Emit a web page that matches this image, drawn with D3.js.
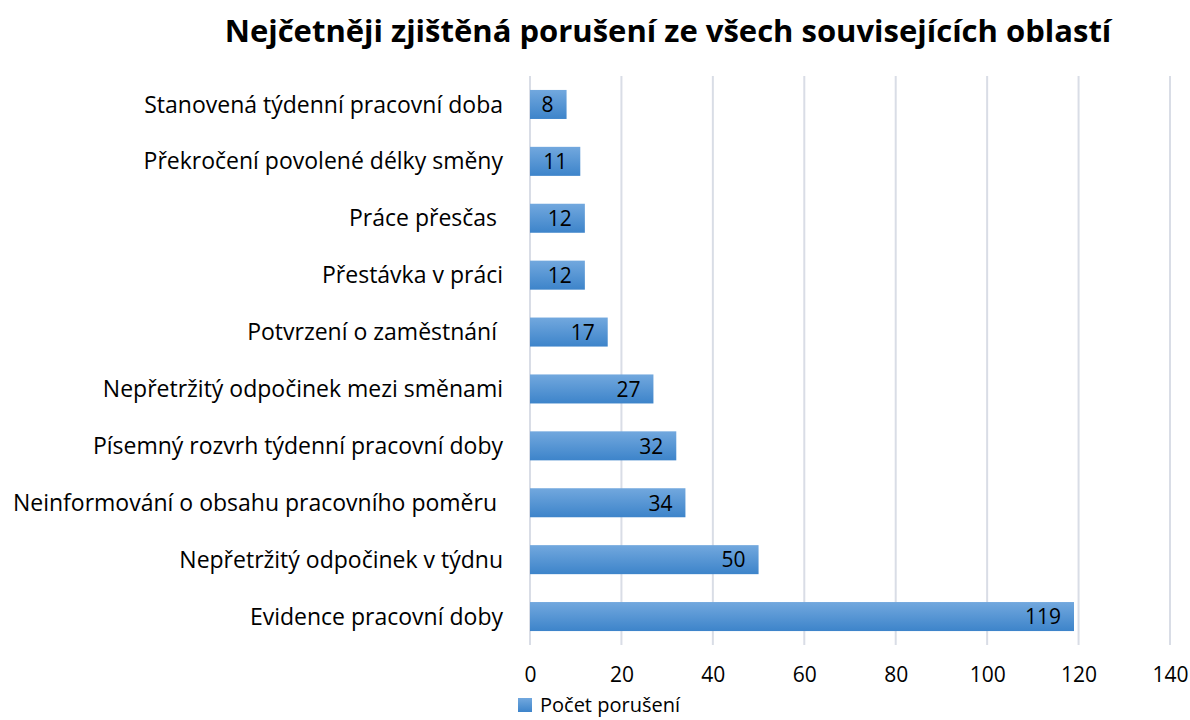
<!doctype html>
<html>
<head>
<meta charset="utf-8">
<script src="https://d3js.org/d3.v7.min.js"></script>
<style>
body { margin: 0; background: #fff; }
text { font-family: "Open Sans", Lato, sans-serif; fill: #000; }
</style>
</head>
<body>
<script>
var width = 1190, height = 720;

// data, top to bottom
var categories = [
	'Stanovená týdenní pracovní doba',
	'Překročení povolené délky směny',
	'Práce přesčas ',
	'Přestávka v práci',
	'Potvrzení o zaměstnání ',
	'Nepřetržitý odpočinek mezi směnami',
	'Písemný rozvrh týdenní pracovní doby',
	'Neinformování o obsahu pracovního poměru ',
	'Nepřetržitý odpočinek v týdnu',
	'Evidence pracovní doby'
];
var values = [8, 11, 12, 12, 17, 27, 32, 34, 50, 119];
var xTicks = [0, 20, 40, 60, 80, 100, 120, 140];
var seriesName = 'Počet porušení';
var title = 'Nejčetněji zjištěná porušení ze všech souvisejících oblastí';

var svg = d3.select('body').append('svg').attr('width', width).attr('height', height);

var defs = svg.append('defs');
var grad = defs.append('linearGradient').attr('id', 'barGrad')
	.attr('x1', 0).attr('y1', 0).attr('x2', 0).attr('y2', 1);
grad.append('stop').attr('offset', '0%').attr('stop-color', '#72a8de');
grad.append('stop').attr('offset', '100%').attr('stop-color', '#3d84ca');

var x = d3.scaleLinear().domain([0, 140]).range([530, 1170]);
var y = d3.scaleBand().domain(categories).range([76, 645]).paddingInner(0.49).paddingOuter(0.245);

// title
svg.append('text').attr('x', 668).attr('y', 42)
	.attr('text-anchor', 'middle')
	.style('font-size', '31px').style('font-weight', 'bold')
	.text(title);

// gridlines
svg.append('g').selectAll('line').data(xTicks).enter().append('line')
	.attr('x1', function(d){return x(d);}).attr('x2', function(d){return x(d);})
	.attr('y1', 76).attr('y2', 645)
	.style('stroke', '#d9dde6').style('stroke-width', 2);

// x tick labels
var xAxis = d3.axisBottom(x).tickValues(xTicks).tickSize(0).tickPadding(0);
var axG = svg.append('g').attr('transform', 'translate(0,667)').call(xAxis);
axG.select('.domain').remove();
axG.selectAll('text').style('font-size', '21px').style('font-family', '"Open Sans", sans-serif').attr('dy', '0.72em').attr('fill', '#000');

// category labels
svg.append('g').selectAll('text').data(categories).enter().append('text')
	.attr('x', 503)
	.attr('y', function(d){return y(d) + y.bandwidth() / 2;})
	.attr('dy', '0.35em')
	.attr('text-anchor', 'end')
	.style('font-size', '23px')
	.style('white-space', 'pre')
	.text(function(d){return d;});

// bars
svg.append('g').selectAll('rect').data(values).enter().append('rect')
	.attr('x', x(0))
	.attr('y', function(d, i){return y(categories[i]);})
	.attr('width', function(d){return x(d) - x(0);})
	.attr('height', y.bandwidth())
	.style('fill', 'url(#barGrad)');

// value labels inside end
svg.append('g').selectAll('text').data(values).enter().append('text')
	.attr('x', function(d){return x(d) - 13;})
	.attr('y', function(d, i){return y(categories[i]) + y.bandwidth() / 2;})
	.attr('dy', '0.37em')
	.attr('text-anchor', 'end')
	.style('font-size', '21px')
	.text(function(d){return d;});

// legend
var lg = svg.append('g').attr('transform', 'translate(518,698)');
lg.append('rect').attr('width', 14).attr('height', 14).style('fill', 'url(#barGrad)');
lg.append('text').attr('x', 22).attr('y', 7).attr('dy', '0.35em')
	.style('font-size', '20px').text(seriesName);
</script>
</body>
</html>
